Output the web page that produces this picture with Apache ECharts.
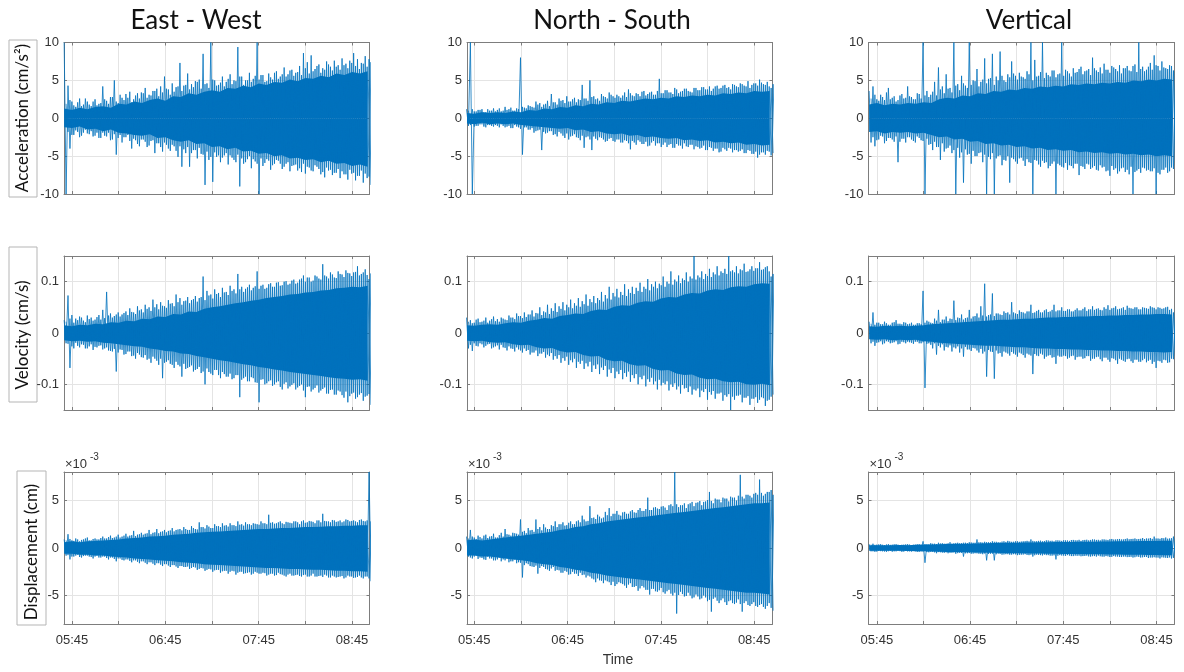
<!DOCTYPE html>
<html>
<head>
<meta charset="utf-8">
<title>Ground motion records</title>
<script src="https://cdn.jsdelivr.net/npm/echarts@6.0.0/dist/echarts.min.js"></script>
<style>
  html, body { margin: 0; padding: 0; background: #fff; }
  #chart { width: 1184px; height: 672px; }
</style>
</head>
<body>
<div id="chart"></div>
<script>
// time in minutes after 05:45; peaks every 2.48 min from 05:40, dense band every 5 min
const sampleStart = -5;
const sampleStep = 2.48;
const bandTimes = [-5, 0, 5, 10, 15, 20, 25, 30, 35, 40, 45, 50, 55, 60, 65, 70, 75, 80, 85, 90,
  95, 100, 105, 110, 115, 120, 125, 130, 135, 140, 145, 150, 155, 160, 165, 170, 175, 180, 185, 190];

const xTicks = [0, 30, 60, 90, 120, 150, 180];
const xLabels = [0, 60, 120, 180];

const columnTitles = ['East - West', 'North - South', 'Vertical'];
const rowTitles = ['Acceleration (cm/s²)', 'Velocity (cm/s)', 'Displacement (cm)'];

// ---- acceleration (cm/s^2) ----
const ewAccHi = [10, 4.3, 2.2, 1.5, 2.6, 1.8, 2.2, 1.6, 2.5, 1.9,
  4.2, 2.3, 2.8, 5.0, 2.0, 2.7, 3.2, 3.5, 2.5, 3.3,
  3.4, 4.0, 3.1, 3.6, 3.9, 4.2, 5.5, 3.8, 4.6, 4.1,
  7.3, 4.3, 5.9, 4.5, 4.9, 5.1, 8.5, 4.6, 10, 5.0,
  4.4, 5.5, 4.8, 5.8, 5.0, 9.4, 5.5, 5.0, 6.0, 5.2,
  10, 5.7, 4.8, 5.9, 5.1, 6.2, 5.5, 6.7, 5.8, 6.4,
  6.0, 6.9, 8.6, 7.4, 8.3, 6.5, 7.1, 6.6, 7.5, 6.8,
  7.6, 7.0, 7.9, 7.2, 7.6, 8.6, 7.8, 7.3, 8.2, 7.8];
const ewAccLo = [-10, -4.0, -2.2, -1.8, -2.3, -1.5, -2.1, -2.4, -1.9, -2.6,
  -2.3, -1.9, -2.8, -4.8, -2.2, -2.5, -2.2, -4.0, -2.9, -3.7,
  -2.8, -3.8, -3.0, -4.6, -3.3, -4.4, -3.5, -4.3, -3.7, -5.1,
  -6.4, -4.6, -6.4, -4.2, -5.3, -4.7, -8.8, -5.5, -8.4, -5.1,
  -5.8, -4.9, -6.1, -5.2, -5.8, -9.0, -6.0, -5.4, -6.6, -5.7,
  -10, -6.3, -5.4, -6.8, -6.0, -5.6, -6.7, -6.0, -7.0, -6.2,
  -6.9, -7.1, -7.3, -6.5, -7.0, -6.4, -7.4, -7.8, -6.9, -7.5,
  -7.2, -7.9, -7.4, -8.1, -7.3, -8.2, -7.6, -8.5, -7.9, -8.8];
const ewAccHi2 = [1.9, 2.4, 1.7, 2.1, 1.6, 2.6, 1.8, 2.2, 1.7, 2.0,
  2.5, 1.9, 2.8, 2.2, 3.1, 2.4, 2.7, 2.1, 3.0, 2.6,
  3.3, 2.7, 3.0, 3.6, 2.9, 3.4, 3.9, 3.1, 3.5, 4.2,
  3.6, 4.4, 3.8, 4.1, 4.8, 3.9, 4.5, 4.0, 5.1, 4.3,
  4.7, 4.2, 5.2, 4.5, 4.9, 5.5, 4.4, 5.0, 4.8, 5.6,
  5.1, 5.7, 4.9, 5.4, 6.0, 5.2, 5.8, 5.5, 6.3, 5.6,
  6.1, 5.7, 6.6, 5.9, 6.2, 6.9, 6.0, 6.4, 7.1, 6.3,
  6.8, 6.4, 7.0, 6.6, 7.3, 6.9, 6.5, 7.2, 6.8, 7.4];
const ewAccLo2 = [-1.8, -2.2, -1.6, -2.5, -1.9, -2.0, -1.7, -2.3, -2.6, -1.9,
  -2.4, -2.9, -2.1, -2.6, -3.2, -2.5, -3.0, -2.7, -3.4, -2.8,
  -3.1, -3.6, -2.9, -3.3, -3.8, -3.2, -4.0, -3.5, -4.3, -3.7,
  -4.1, -3.8, -4.6, -4.2, -3.9, -4.8, -4.4, -5.1, -4.5, -4.9,
  -5.2, -4.6, -4.9, -5.5, -4.8, -5.3, -5.8, -5.0, -5.4, -6.0,
  -5.3, -5.9, -5.6, -6.2, -5.5, -6.0, -6.4, -5.8, -6.3, -6.1,
  -6.6, -6.0, -6.4, -6.9, -6.2, -6.7, -7.1, -6.5, -6.8, -7.2,
  -6.7, -7.0, -7.4, -6.8, -7.2, -7.6, -6.9, -7.3, -7.7, -7.1];
const ewAccBandHi = [1.3, 1.1, 1.4, 1.2, 1.5, 1.6, 1.4, 1.9, 1.8, 2.2,
  2.0, 2.4, 2.6, 2.3, 2.9, 2.8, 3.3, 3.1, 3.5, 3.7,
  3.5, 4.0, 3.9, 4.3, 4.1, 4.6, 4.4, 4.8, 4.7, 5.1,
  4.9, 5.3, 5.2, 5.6, 5.4, 5.9, 5.7, 6.1, 5.9, 6.2];
const ewAccBandLo = [-1.2, -1.3, -1.1, -1.5, -1.4, -1.7, -1.5, -1.9, -2.0, -2.2,
  -2.3, -2.1, -2.6, -2.5, -2.9, -3.1, -2.9, -3.4, -3.3, -3.8,
  -3.7, -4.1, -3.9, -4.4, -4.3, -4.7, -4.6, -5.0, -4.9, -5.3,
  -5.2, -5.5, -5.4, -5.8, -5.6, -6.0, -5.9, -6.3, -6.1, -6.4];

const nsAccHi = [1.2, 10, 0.9, 1.1, 1.2, 0.8, 1.0, 1.3, 1.1, 0.9,
  1.5, 1.2, 1.0, 1.3, 8.0, 1.4, 1.7, 1.5, 2.2, 2.0,
  1.8, 2.3, 3.2, 2.1, 2.6, 2.4, 2.9, 2.2, 2.7, 2.5,
  4.4, 2.6, 5.0, 2.9, 2.6, 3.2, 2.8, 3.4, 2.9, 3.1,
  2.7, 3.4, 3.8, 3.0, 3.3, 2.9, 3.6, 3.2, 3.5, 3.1,
  5.2, 3.3, 3.7, 3.4, 4.0, 3.3, 3.6, 3.9, 3.5, 4.0,
  3.7, 4.1, 3.8, 4.2, 3.9, 4.3, 4.0, 4.4, 4.1, 4.5,
  4.2, 4.6, 4.3, 4.9, 4.4, 4.6, 5.1, 4.5, 4.8, 4.0];
const nsAccLo = [-1.0, -10, -1.0, -0.8, -1.1, -0.9, -1.0, -0.9, -1.2, -1.0,
  -1.1, -1.3, -0.9, -1.2, -4.8, -1.2, -1.5, -1.9, -1.6, -4.2,
  -2.0, -1.7, -2.2, -2.4, -2.0, -2.6, -2.8, -2.3, -2.5, -2.9,
  -3.9, -2.4, -4.2, -2.7, -2.5, -2.8, -3.0, -2.6, -3.1, -2.8,
  -3.2, -3.0, -4.1, -3.2, -2.9, -3.4, -3.1, -3.6, -3.0, -3.3,
  -3.8, -3.2, -3.5, -3.9, -3.4, -3.6, -3.3, -3.8, -3.5, -3.7,
  -4.0, -3.6, -4.2, -3.9, -4.0, -4.5, -3.9, -4.3, -4.0, -4.2,
  -4.4, -4.1, -4.6, -4.3, -4.7, -5.2, -4.5, -4.8, -4.4, -4.6];
const nsAccHi2 = [1.0, 1.2, 0.9, 1.1, 0.8, 1.2, 1.0, 0.9, 1.3, 1.0,
  1.1, 1.4, 1.0, 1.2, 1.5, 1.3, 1.6, 1.4, 1.8, 1.5,
  1.9, 1.6, 2.1, 1.8, 2.3, 2.0, 2.2, 2.5, 2.1, 2.4,
  2.6, 2.3, 2.8, 2.5, 2.3, 2.9, 2.6, 3.1, 2.7, 2.9,
  3.0, 2.8, 3.3, 2.9, 3.2, 3.5, 3.0, 3.4, 3.1, 3.6,
  3.3, 3.7, 3.4, 3.2, 3.8, 3.5, 3.9, 3.6, 3.4, 4.0,
  3.7, 4.1, 3.8, 3.6, 4.2, 3.9, 4.3, 4.0, 3.8, 4.4,
  4.1, 4.5, 4.2, 4.0, 4.6, 4.3, 4.7, 4.4, 4.2, 4.5];
const nsAccLo2 = [-0.9, -1.1, -1.0, -0.8, -1.2, -0.9, -1.1, -1.0, -0.8, -1.2,
  -1.0, -1.3, -1.1, -1.4, -1.2, -1.5, -1.3, -1.7, -1.5, -1.8,
  -1.9, -1.7, -2.1, -1.8, -2.3, -2.0, -2.4, -2.1, -2.6, -2.3,
  -2.5, -2.8, -2.4, -2.9, -2.6, -3.1, -2.7, -3.0, -2.8, -3.2,
  -2.9, -3.3, -3.0, -3.5, -3.1, -3.4, -3.7, -3.2, -3.6, -3.3,
  -3.5, -3.8, -3.4, -3.9, -3.6, -4.0, -3.7, -3.5, -4.1, -3.8,
  -3.9, -4.2, -3.8, -4.3, -4.0, -4.4, -4.1, -3.9, -4.5, -4.2,
  -4.3, -4.6, -4.2, -4.7, -4.4, -4.8, -4.5, -4.3, -4.9, -4.5];
const nsAccBandHi = [0.7, 0.6, 0.8, 0.7, 0.8, 0.7, 0.9, 0.8, 1.1, 1.0,
  1.3, 1.2, 1.5, 1.4, 1.7, 1.6, 1.9, 1.8, 2.1, 2.0,
  2.3, 2.2, 2.4, 2.6, 2.5, 2.7, 2.6, 2.9, 2.8, 3.0,
  2.9, 3.1, 3.0, 3.3, 3.2, 3.4, 3.3, 3.6, 3.5, 3.6];
const nsAccBandLo = [-0.7, -0.8, -0.6, -0.8, -0.7, -0.8, -0.7, -0.9, -1.0, -1.1,
  -1.2, -1.3, -1.4, -1.3, -1.6, -1.5, -1.8, -1.7, -2.0, -2.1,
  -2.0, -2.3, -2.2, -2.5, -2.4, -2.6, -2.7, -2.6, -2.9, -2.8,
  -3.0, -2.9, -3.2, -3.1, -3.3, -3.2, -3.5, -3.4, -3.6, -3.5];

const vAccHi = [3.6, 4.2, 2.5, 3.1, 2.4, 4.0, 2.7, 2.2, 3.0, 2.6,
  4.2, 2.8, 2.5, 3.2, 10, 3.6, 3.1, 4.8, 6.7, 4.2,
  5.8, 4.0, 10, 4.5, 5.6, 4.3, 10, 5.0, 6.5, 4.8,
  7.9, 5.2, 8.5, 5.5, 8.8, 5.0, 5.8, 7.5, 5.6, 6.0,
  5.4, 6.2, 10, 7.7, 5.6, 10, 6.0, 5.5, 6.3, 5.8,
  10, 6.4, 5.9, 6.6, 6.1, 6.8, 6.2, 6.5, 8.0, 6.3,
  6.7, 7.2, 6.4, 6.9, 6.5, 7.0, 6.6, 6.9, 6.2, 7.1,
  10, 6.8, 6.4, 7.3, 8.3, 6.9, 7.5, 6.6, 7.0, 6.3];
const vAccLo = [-3.2, -3.7, -2.8, -2.4, -3.0, -2.6, -3.1, -5.8, -2.7, -3.2,
  -2.5, -3.0, -2.4, -2.9, -10, -3.5, -4.2, -3.8, -5.5, -4.4,
  -3.9, -4.6, -10, -5.2, -8.5, -4.8, -6.0, -5.0, -4.6, -5.8,
  -10, -5.4, -10, -5.0, -6.2, -5.6, -8.5, -5.4, -6.0, -5.2,
  -6.3, -5.8, -10, -5.6, -6.4, -5.9, -6.6, -6.0, -10, -6.2,
  -6.5, -6.8, -6.3, -6.0, -7.5, -6.4, -6.0, -6.7, -6.3, -6.9,
  -6.5, -7.0, -7.6, -6.8, -7.3, -6.6, -7.1, -7.4, -10, -6.9,
  -7.2, -6.6, -6.8, -7.0, -10, -7.4, -6.8, -7.2, -6.5, -6.2];
const vAccHi2 = [2.6, 3.1, 2.3, 2.8, 3.4, 2.5, 2.9, 2.4, 3.2, 2.7,
  2.9, 2.5, 3.3, 2.6, 3.0, 2.8, 3.5, 3.0, 3.8, 3.3,
  3.9, 3.4, 4.3, 3.7, 4.6, 4.0, 4.4, 4.9, 4.2, 5.1,
  4.6, 5.3, 4.4, 5.0, 5.6, 4.8, 5.4, 5.9, 5.1, 5.5,
  5.2, 5.8, 5.0, 5.5, 6.1, 5.3, 5.7, 6.3, 5.4, 5.9,
  5.6, 6.2, 5.5, 6.0, 6.5, 5.8, 6.3, 5.7, 6.6, 6.1,
  5.9, 6.4, 6.0, 6.7, 6.2, 5.9, 6.6, 6.3, 6.9, 6.1,
  6.5, 6.2, 6.8, 6.4, 7.0, 6.3, 6.7, 6.5, 6.9, 6.2];
const vAccLo2 = [-2.5, -2.9, -2.3, -3.3, -2.6, -2.8, -2.4, -3.1, -2.7, -2.5,
  -2.8, -3.2, -2.6, -3.0, -2.7, -3.4, -3.1, -3.8, -3.3, -4.0,
  -3.6, -4.2, -3.9, -4.5, -4.1, -4.7, -4.3, -5.0, -4.5, -4.8,
  -5.1, -4.6, -5.3, -4.9, -5.5, -5.0, -5.2, -5.7, -5.3, -5.6,
  -5.4, -5.9, -5.5, -6.1, -5.6, -5.8, -6.3, -5.7, -6.0, -6.4,
  -5.9, -6.2, -6.6, -6.0, -6.3, -6.7, -6.1, -6.5, -6.8, -6.2,
  -6.4, -6.9, -6.3, -6.6, -7.0, -6.5, -6.8, -6.4, -7.1, -6.7,
  -6.5, -6.9, -7.0, -6.6, -7.2, -6.8, -6.5, -7.0, -6.7, -6.3];
const vAccBandHi = [1.8, 2.0, 1.7, 1.9, 1.8, 2.0, 1.9, 2.1, 2.0, 2.5,
  2.7, 2.6, 3.0, 2.9, 3.3, 3.2, 3.6, 3.5, 3.8, 3.7,
  4.0, 3.9, 4.2, 4.1, 4.3, 4.2, 4.5, 4.4, 4.6, 4.5,
  4.7, 4.6, 4.8, 4.7, 5.0, 4.9, 5.1, 5.0, 5.2, 5.1];
const vAccBandLo = [-1.8, -1.7, -2.0, -1.8, -1.9, -1.8, -2.0, -1.9, -2.2, -2.5,
  -2.4, -2.8, -2.7, -3.1, -3.0, -3.4, -3.3, -3.6, -3.5, -3.8,
  -3.7, -4.0, -3.9, -4.2, -4.1, -4.3, -4.2, -4.5, -4.4, -4.6,
  -4.5, -4.7, -4.6, -4.8, -4.7, -4.9, -4.8, -5.0, -4.9, -5.0];

// ---- velocity (cm/s) ----
const ewVelHi = [0.025, 0.073, 0.035, 0.028, 0.032, 0.024, 0.034, 0.03, 0.026, 0.035,
  0.045, 0.08, 0.038, 0.033, 0.04, 0.036, 0.042, 0.048, 0.04, 0.052,
  0.046, 0.055, 0.05, 0.065, 0.056, 0.06, 0.052, 0.064, 0.058, 0.075,
  0.068, 0.062, 0.07, 0.064, 0.072, 0.068, 0.11, 0.082, 0.075, 0.085,
  0.078, 0.088, 0.08, 0.092, 0.085, 0.115, 0.09, 0.086, 0.094, 0.088,
  0.12, 0.092, 0.086, 0.095, 0.09, 0.098, 0.092, 0.1, 0.094, 0.102,
  0.096, 0.104, 0.112, 0.108, 0.1, 0.112, 0.106, 0.134, 0.11, 0.118,
  0.108, 0.12, 0.114, 0.122, 0.116, 0.118, 0.13, 0.115, 0.124, 0.105];
const ewVelLo = [-0.02, -0.068, -0.03, -0.025, -0.022, -0.03, -0.026, -0.033, -0.028, -0.024,
  -0.03, -0.034, -0.036, -0.075, -0.032, -0.042, -0.036, -0.045, -0.05, -0.042,
  -0.048, -0.052, -0.058, -0.05, -0.062, -0.088, -0.056, -0.06, -0.068, -0.062,
  -0.085, -0.07, -0.066, -0.075, -0.07, -0.078, -0.1, -0.076, -0.082, -0.072,
  -0.088, -0.08, -0.085, -0.09, -0.082, -0.125, -0.088, -0.094, -0.086, -0.096,
  -0.135, -0.09, -0.098, -0.092, -0.1, -0.094, -0.11, -0.096, -0.104, -0.098,
  -0.106, -0.1, -0.125, -0.104, -0.11, -0.102, -0.112, -0.106, -0.118, -0.11,
  -0.12, -0.114, -0.126, -0.135, -0.118, -0.128, -0.12, -0.132, -0.122, -0.14];
const ewVelHi2 = [0.022, 0.028, 0.02, 0.025, 0.03, 0.021, 0.027, 0.024, 0.031, 0.026,
  0.029, 0.034, 0.03, 0.036, 0.032, 0.039, 0.035, 0.041, 0.037, 0.044,
  0.04, 0.047, 0.043, 0.05, 0.046, 0.053, 0.049, 0.057, 0.052, 0.06,
  0.055, 0.063, 0.058, 0.066, 0.061, 0.07, 0.064, 0.073, 0.067, 0.076,
  0.07, 0.079, 0.074, 0.082, 0.077, 0.085, 0.08, 0.089, 0.083, 0.091,
  0.086, 0.094, 0.088, 0.097, 0.09, 0.099, 0.093, 0.101, 0.096, 0.104,
  0.098, 0.106, 0.1, 0.108, 0.102, 0.11, 0.104, 0.112, 0.106, 0.114,
  0.107, 0.115, 0.109, 0.117, 0.111, 0.119, 0.112, 0.118, 0.113, 0.116];
const ewVelLo2 = [-0.021, -0.026, -0.019, -0.028, -0.023, -0.03, -0.022, -0.027, -0.025, -0.032,
  -0.028, -0.035, -0.031, -0.038, -0.033, -0.041, -0.036, -0.044, -0.039, -0.047,
  -0.043, -0.05, -0.046, -0.054, -0.05, -0.058, -0.053, -0.062, -0.056, -0.065,
  -0.06, -0.068, -0.063, -0.072, -0.066, -0.075, -0.069, -0.079, -0.072, -0.082,
  -0.076, -0.085, -0.079, -0.088, -0.082, -0.091, -0.085, -0.094, -0.088, -0.097,
  -0.091, -0.1, -0.094, -0.103, -0.096, -0.105, -0.099, -0.108, -0.101, -0.11,
  -0.103, -0.112, -0.105, -0.114, -0.107, -0.116, -0.109, -0.118, -0.111, -0.12,
  -0.112, -0.121, -0.114, -0.123, -0.116, -0.125, -0.117, -0.124, -0.119, -0.126];
const ewVelBandHi = [0.015, 0.013, 0.016, 0.015, 0.018, 0.017, 0.021, 0.02, 0.024, 0.023,
  0.028, 0.027, 0.032, 0.031, 0.037, 0.036, 0.042, 0.041, 0.047, 0.05,
  0.052, 0.055, 0.058, 0.06, 0.063, 0.065, 0.068, 0.07, 0.072, 0.075,
  0.076, 0.079, 0.08, 0.083, 0.084, 0.087, 0.088, 0.09, 0.089, 0.092];
const ewVelBandLo = [-0.014, -0.016, -0.015, -0.017, -0.016, -0.019, -0.02, -0.022, -0.024, -0.026,
  -0.027, -0.03, -0.032, -0.035, -0.036, -0.04, -0.041, -0.045, -0.047, -0.05,
  -0.053, -0.055, -0.058, -0.061, -0.063, -0.066, -0.068, -0.071, -0.073, -0.076,
  -0.078, -0.08, -0.082, -0.084, -0.086, -0.088, -0.089, -0.091, -0.09, -0.093];

const nsVelHi = [0.03, 0.025, 0.02, 0.028, 0.022, 0.03, 0.024, 0.032, 0.027, 0.03,
  0.026, 0.034, 0.03, 0.038, 0.033, 0.04, 0.036, 0.044, 0.039, 0.05,
  0.042, 0.055, 0.048, 0.058, 0.052, 0.06, 0.055, 0.065, 0.058, 0.068,
  0.062, 0.075, 0.066, 0.072, 0.068, 0.08, 0.074, 0.09, 0.078, 0.086,
  0.08, 0.095, 0.085, 0.09, 0.088, 0.098, 0.09, 0.105, 0.095, 0.1,
  0.096, 0.11, 0.1, 0.12, 0.104, 0.112, 0.106, 0.118, 0.11, 0.15,
  0.112, 0.12, 0.115, 0.125, 0.118, 0.13, 0.12, 0.125, 0.15, 0.122,
  0.13, 0.124, 0.135, 0.12, 0.13, 0.126, 0.138, 0.124, 0.13, 0.11];
const nsVelLo = [-0.03, -0.035, -0.025, -0.02, -0.028, -0.022, -0.03, -0.026, -0.032, -0.028,
  -0.034, -0.03, -0.036, -0.032, -0.038, -0.035, -0.042, -0.038, -0.045, -0.04,
  -0.048, -0.045, -0.052, -0.05, -0.058, -0.054, -0.062, -0.057, -0.068, -0.06,
  -0.07, -0.065, -0.076, -0.07, -0.08, -0.072, -0.085, -0.078, -0.088, -0.08,
  -0.09, -0.085, -0.095, -0.088, -0.1, -0.09, -0.104, -0.095, -0.1, -0.11,
  -0.102, -0.1, -0.112, -0.105, -0.11, -0.118, -0.108, -0.115, -0.12, -0.112,
  -0.125, -0.115, -0.13, -0.12, -0.128, -0.118, -0.132, -0.124, -0.15, -0.13,
  -0.122, -0.135, -0.126, -0.14, -0.128, -0.136, -0.125, -0.142, -0.13, -0.12];
const nsVelHi2 = [0.022, 0.019, 0.026, 0.021, 0.024, 0.02, 0.027, 0.023, 0.022, 0.028,
  0.025, 0.03, 0.027, 0.033, 0.029, 0.031, 0.036, 0.032, 0.038, 0.035,
  0.04, 0.037, 0.043, 0.041, 0.047, 0.044, 0.05, 0.048, 0.053, 0.051,
  0.056, 0.053, 0.06, 0.058, 0.064, 0.061, 0.067, 0.065, 0.071, 0.069,
  0.074, 0.072, 0.078, 0.076, 0.082, 0.08, 0.086, 0.083, 0.09, 0.087,
  0.093, 0.09, 0.096, 0.094, 0.1, 0.097, 0.103, 0.1, 0.106, 0.104,
  0.108, 0.105, 0.111, 0.109, 0.114, 0.112, 0.117, 0.115, 0.12, 0.118,
  0.116, 0.122, 0.119, 0.124, 0.121, 0.126, 0.123, 0.128, 0.12, 0.115];
const nsVelLo2 = [-0.023, -0.02, -0.026, -0.022, -0.025, -0.021, -0.028, -0.024, -0.023, -0.029,
  -0.026, -0.031, -0.028, -0.034, -0.03, -0.033, -0.038, -0.034, -0.04, -0.037,
  -0.042, -0.039, -0.045, -0.043, -0.049, -0.046, -0.053, -0.05, -0.056, -0.054,
  -0.059, -0.056, -0.063, -0.061, -0.067, -0.064, -0.071, -0.068, -0.075, -0.072,
  -0.078, -0.075, -0.082, -0.08, -0.086, -0.083, -0.09, -0.087, -0.094, -0.091,
  -0.097, -0.094, -0.1, -0.098, -0.104, -0.101, -0.107, -0.104, -0.11, -0.108,
  -0.112, -0.109, -0.115, -0.113, -0.118, -0.116, -0.121, -0.119, -0.124, -0.122,
  -0.12, -0.126, -0.123, -0.128, -0.125, -0.13, -0.127, -0.132, -0.124, -0.118];
const nsVelBandHi = [0.015, 0.014, 0.016, 0.017, 0.016, 0.019, 0.021, 0.02, 0.024, 0.026,
  0.029, 0.028, 0.033, 0.035, 0.038, 0.037, 0.043, 0.046, 0.045, 0.051,
  0.054, 0.053, 0.059, 0.062, 0.061, 0.067, 0.07, 0.069, 0.075, 0.078,
  0.077, 0.083, 0.085, 0.084, 0.089, 0.091, 0.09, 0.095, 0.097, 0.096];
const nsVelBandLo = [-0.015, -0.016, -0.015, -0.018, -0.019, -0.018, -0.022, -0.024, -0.023, -0.028,
  -0.03, -0.029, -0.035, -0.038, -0.037, -0.043, -0.046, -0.045, -0.052, -0.055,
  -0.054, -0.061, -0.064, -0.063, -0.07, -0.073, -0.072, -0.079, -0.082, -0.081,
  -0.087, -0.09, -0.089, -0.094, -0.096, -0.095, -0.1, -0.101, -0.099, -0.102];

const vVelHi = [0.022, 0.04, 0.02, 0.017, 0.022, 0.016, 0.02, 0.025, 0.018, 0.021,
  0.017, 0.02, 0.016, 0.019, 0.082, 0.024, 0.02, 0.028, 0.045, 0.026,
  0.032, 0.028, 0.063, 0.03, 0.036, 0.029, 0.045, 0.032, 0.038, 0.052,
  0.096, 0.035, 0.077, 0.038, 0.036, 0.042, 0.04, 0.06, 0.038, 0.044,
  0.04, 0.042, 0.055, 0.04, 0.045, 0.04, 0.046, 0.042, 0.055, 0.044,
  0.05, 0.043, 0.046, 0.042, 0.048, 0.044, 0.05, 0.046, 0.052, 0.047,
  0.045, 0.05, 0.054, 0.048, 0.052, 0.047, 0.05, 0.053, 0.048, 0.05,
  0.046, 0.05, 0.048, 0.052, 0.049, 0.05, 0.047, 0.05, 0.045, 0.04];
const vVelLo = [-0.02, -0.025, -0.018, -0.022, -0.016, -0.02, -0.018, -0.022, -0.017, -0.02,
  -0.018, -0.021, -0.017, -0.02, -0.107, -0.02, -0.03, -0.042, -0.028, -0.034,
  -0.028, -0.036, -0.03, -0.038, -0.046, -0.032, -0.035, -0.03, -0.038, -0.04,
  -0.085, -0.036, -0.089, -0.04, -0.046, -0.038, -0.044, -0.04, -0.046, -0.04,
  -0.048, -0.042, -0.08, -0.044, -0.04, -0.05, -0.044, -0.048, -0.06, -0.046,
  -0.044, -0.05, -0.045, -0.052, -0.046, -0.05, -0.045, -0.054, -0.05, -0.046,
  -0.055, -0.048, -0.056, -0.05, -0.06, -0.052, -0.056, -0.05, -0.058, -0.052,
  -0.056, -0.05, -0.054, -0.06, -0.068, -0.055, -0.052, -0.058, -0.05, -0.045];
const vVelHi2 = [0.018, 0.016, 0.02, 0.017, 0.019, 0.016, 0.021, 0.018, 0.017, 0.02,
  0.018, 0.016, 0.019, 0.017, 0.02, 0.022, 0.019, 0.024, 0.021, 0.026,
  0.023, 0.027, 0.025, 0.029, 0.026, 0.03, 0.028, 0.033, 0.03, 0.034,
  0.032, 0.036, 0.033, 0.038, 0.035, 0.039, 0.036, 0.04, 0.037, 0.041,
  0.038, 0.042, 0.039, 0.043, 0.04, 0.044, 0.041, 0.045, 0.042, 0.044,
  0.043, 0.046, 0.042, 0.045, 0.044, 0.047, 0.043, 0.046, 0.045, 0.048,
  0.044, 0.047, 0.045, 0.049, 0.046, 0.048, 0.045, 0.049, 0.047, 0.05,
  0.046, 0.049, 0.047, 0.05, 0.046, 0.049, 0.048, 0.051, 0.047, 0.044];
const vVelLo2 = [-0.017, -0.019, -0.016, -0.02, -0.017, -0.019, -0.016, -0.021, -0.018, -0.017,
  -0.019, -0.017, -0.02, -0.018, -0.021, -0.023, -0.02, -0.025, -0.022, -0.027,
  -0.024, -0.028, -0.026, -0.03, -0.027, -0.032, -0.029, -0.034, -0.031, -0.036,
  -0.033, -0.037, -0.034, -0.039, -0.036, -0.04, -0.037, -0.042, -0.038, -0.043,
  -0.04, -0.044, -0.041, -0.045, -0.042, -0.046, -0.043, -0.047, -0.044, -0.046,
  -0.045, -0.048, -0.044, -0.047, -0.046, -0.049, -0.045, -0.05, -0.047, -0.051,
  -0.048, -0.052, -0.049, -0.053, -0.05, -0.054, -0.051, -0.055, -0.052, -0.056,
  -0.053, -0.057, -0.052, -0.056, -0.054, -0.058, -0.053, -0.057, -0.051, -0.046];
const vVelBandHi = [0.013, 0.012, 0.014, 0.013, 0.014, 0.013, 0.014, 0.015, 0.017, 0.018,
  0.019, 0.02, 0.021, 0.022, 0.023, 0.024, 0.025, 0.026, 0.026, 0.027,
  0.028, 0.028, 0.029, 0.03, 0.03, 0.031, 0.031, 0.032, 0.032, 0.033,
  0.033, 0.034, 0.034, 0.035, 0.035, 0.036, 0.036, 0.037, 0.037, 0.036];
const vVelBandLo = [-0.012, -0.013, -0.012, -0.014, -0.013, -0.014, -0.013, -0.016, -0.017, -0.019,
  -0.02, -0.021, -0.022, -0.023, -0.024, -0.025, -0.025, -0.026, -0.027, -0.028,
  -0.028, -0.029, -0.03, -0.03, -0.031, -0.031, -0.032, -0.032, -0.033, -0.033,
  -0.034, -0.034, -0.035, -0.035, -0.036, -0.036, -0.037, -0.037, -0.038, -0.037];

// ---- displacement (x10^-3 cm) ----
const ewDispHi = [0.9, 1.45, 0.8, 1.0, 0.7, 0.9, 1.1, 0.8, 1.0, 0.9,
  1.2, 1.0, 1.3, 1.1, 1.4, 1.2, 1.5, 1.3, 1.8, 1.4,
  1.6, 1.5, 1.9, 1.6, 2.0, 1.7, 1.9, 1.8, 2.1, 1.9,
  2.0, 2.2, 1.9, 2.3, 2.0, 2.7, 2.2, 2.4, 2.1, 2.5,
  2.3, 2.6, 2.4, 2.6, 2.4, 2.8, 2.5, 2.7, 2.5, 2.6,
  2.5, 2.8, 2.6, 3.5, 2.7, 2.6, 2.8, 2.5, 2.7, 2.6,
  2.8, 2.5, 2.9, 2.7, 2.8, 2.6, 2.9, 3.6, 2.8, 2.7,
  2.9, 2.8, 2.7, 3.0, 2.8, 2.9, 2.7, 3.0, 2.8, 8.0];
const ewDispLo = [-0.8, -1.2, -0.9, -0.7, -1.0, -0.8, -0.9, -1.1, -0.8, -1.0,
  -0.9, -1.2, -1.0, -1.4, -1.1, -1.3, -1.2, -1.5, -1.3, -1.6,
  -1.4, -1.7, -1.5, -1.8, -1.6, -1.9, -1.7, -2.0, -1.8, -2.1,
  -1.9, -2.0, -2.2, -2.0, -2.3, -2.1, -2.4, -2.2, -2.5, -2.3,
  -2.6, -2.4, -2.7, -2.4, -2.8, -2.5, -2.7, -2.6, -2.8, -2.5,
  -2.7, -2.6, -2.9, -2.7, -2.9, -2.6, -2.8, -3.0, -2.7, -2.9,
  -2.8, -3.0, -2.8, -3.0, -2.7, -3.0, -2.9, -2.8, -3.1, -2.9,
  -3.1, -3.0, -3.2, -2.9, -3.0, -3.1, -2.9, -3.2, -3.0, -3.5];
const ewDispHi2 = [0.8, 0.95, 0.75, 0.9, 0.85, 1.0, 0.8, 0.95, 0.9, 1.05,
  1.0, 1.15, 1.05, 1.2, 1.1, 1.3, 1.2, 1.35, 1.25, 1.45,
  1.4, 1.55, 1.45, 1.65, 1.55, 1.75, 1.65, 1.85, 1.75, 1.95,
  1.85, 2.0, 1.9, 2.1, 1.95, 2.2, 2.05, 2.25, 2.1, 2.3,
  2.2, 2.35, 2.25, 2.4, 2.3, 2.45, 2.35, 2.5, 2.4, 2.55,
  2.45, 2.6, 2.5, 2.65, 2.55, 2.7, 2.6, 2.75, 2.65, 2.8,
  2.7, 2.8, 2.65, 2.85, 2.75, 2.9, 2.7, 2.85, 2.8, 2.95,
  2.75, 2.9, 2.8, 2.95, 2.85, 2.8, 2.95, 2.85, 2.9, 2.8];
const ewDispLo2 = [-0.75, -0.9, -0.8, -0.95, -0.85, -0.8, -0.95, -0.9, -1.0, -0.9,
  -1.05, -1.0, -1.15, -1.1, -1.25, -1.2, -1.35, -1.3, -1.45, -1.4,
  -1.55, -1.5, -1.65, -1.6, -1.75, -1.7, -1.85, -1.8, -1.95, -1.9,
  -2.0, -1.95, -2.1, -2.05, -2.2, -2.15, -2.3, -2.25, -2.35, -2.3,
  -2.45, -2.4, -2.5, -2.45, -2.6, -2.5, -2.65, -2.55, -2.7, -2.6,
  -2.7, -2.65, -2.8, -2.7, -2.85, -2.75, -2.9, -2.8, -2.9, -2.85,
  -2.95, -2.85, -3.0, -2.9, -3.0, -2.95, -3.05, -2.9, -3.1, -3.0,
  -3.05, -2.95, -3.1, -3.0, -3.15, -3.05, -3.1, -3.0, -3.2, -3.1];
const ewDispBandHi = [0.6, 0.7, 0.6, 0.7, 0.75, 0.8, 0.85, 0.9, 1.0, 1.05,
  1.1, 1.2, 1.25, 1.3, 1.4, 1.45, 1.5, 1.6, 1.65, 1.7,
  1.75, 1.8, 1.85, 1.9, 1.95, 2.0, 2.0, 2.05, 2.1, 2.1,
  2.15, 2.2, 2.2, 2.25, 2.3, 2.3, 2.35, 2.35, 2.4, 2.4];
const ewDispBandLo = [-0.6, -0.6, -0.7, -0.7, -0.8, -0.8, -0.9, -0.95, -1.0, -1.1,
  -1.15, -1.2, -1.3, -1.35, -1.4, -1.5, -1.55, -1.6, -1.7, -1.75,
  -1.8, -1.85, -1.9, -1.95, -2.0, -2.05, -2.1, -2.1, -2.15, -2.2,
  -2.2, -2.25, -2.3, -2.3, -2.35, -2.4, -2.4, -2.45, -2.45, -2.5];

const nsDispHi = [1.2, 1.9, 1.1, 1.3, 1.0, 1.4, 1.2, 1.5, 1.1, 1.6,
  2.0, 1.4, 1.6, 1.5, 3.0, 1.8, 2.1, 1.9, 3.0, 2.2,
  2.5, 2.0, 2.4, 2.8, 2.5, 2.7, 2.4, 2.8, 2.5, 2.9,
  3.4, 2.8, 4.4, 3.2, 3.5, 3.1, 3.8, 4.2, 3.6, 3.9,
  3.4, 3.8, 3.6, 4.0, 3.7, 4.2, 3.9, 5.3, 4.0, 4.3,
  4.1, 4.4, 4.0, 4.6, 8.0, 4.3, 4.5, 4.2, 4.7, 4.4,
  4.8, 4.5, 4.9, 5.9, 4.7, 5.1, 4.8, 5.2, 4.9, 5.3,
  5.0, 7.7, 5.2, 5.6, 5.3, 5.8, 7.2, 5.5, 5.9, 6.1];
const nsDispLo = [-0.9, -1.1, -0.8, -1.0, -1.2, -0.9, -1.1, -1.3, -1.0, -1.2,
  -1.1, -1.4, -1.2, -1.5, -3.1, -1.6, -1.9, -2.0, -2.7, -1.9,
  -2.2, -2.4, -2.0, -2.3, -2.6, -2.4, -2.8, -2.5, -2.7, -2.6,
  -2.8, -2.9, -3.2, -3.6, -3.4, -3.7, -3.5, -3.9, -4.0, -3.6,
  -3.8, -4.2, -3.7, -4.1, -4.5, -4.0, -4.4, -4.9, -4.3, -4.6,
  -4.2, -4.8, -4.4, -5.0, -6.9, -4.6, -5.1, -4.7, -5.3, -4.9,
  -5.4, -5.0, -5.6, -6.7, -5.2, -5.8, -5.3, -6.0, -5.5, -5.9,
  -5.4, -6.7, -5.6, -6.1, -5.7, -6.2, -5.9, -6.4, -5.8, -6.6];
const nsDispHi2 = [1.0, 1.2, 0.95, 1.15, 1.3, 1.05, 1.25, 1.1, 1.35, 1.2,
  1.45, 1.3, 1.55, 1.4, 1.7, 1.55, 1.85, 1.7, 2.0, 1.85,
  2.15, 2.0, 2.3, 2.2, 2.5, 2.35, 2.65, 2.5, 2.8, 2.7,
  3.0, 2.85, 3.15, 3.05, 3.3, 3.2, 3.45, 3.35, 3.6, 3.5,
  3.75, 3.6, 3.85, 3.75, 4.0, 3.9, 4.1, 4.0, 4.25, 4.15,
  4.35, 4.25, 4.5, 4.4, 4.6, 4.5, 4.7, 4.6, 4.85, 4.75,
  4.95, 4.85, 5.05, 4.95, 5.2, 5.1, 5.3, 5.2, 5.4, 5.3,
  5.5, 5.4, 5.6, 5.5, 5.7, 5.6, 5.8, 5.7, 5.9, 5.6];
const nsDispLo2 = [-1.0, -0.9, -1.15, -1.05, -1.25, -1.1, -1.3, -1.2, -1.4, -1.3,
  -1.5, -1.4, -1.6, -1.55, -1.8, -1.7, -1.95, -1.85, -2.1, -2.0,
  -2.25, -2.15, -2.4, -2.35, -2.6, -2.5, -2.75, -2.7, -2.95, -2.85,
  -3.1, -3.0, -3.3, -3.2, -3.45, -3.4, -3.6, -3.55, -3.8, -3.7,
  -3.95, -3.85, -4.1, -4.0, -4.25, -4.15, -4.4, -4.3, -4.55, -4.45,
  -4.65, -4.55, -4.8, -4.7, -4.95, -4.85, -5.05, -5.0, -5.2, -5.1,
  -5.3, -5.2, -5.45, -5.35, -5.55, -5.5, -5.7, -5.6, -5.8, -5.75,
  -5.9, -5.8, -6.0, -5.9, -6.1, -6.0, -6.2, -6.1, -6.3, -6.0];
const nsDispBandHi = [0.8, 0.9, 0.8, 0.9, 1.0, 1.1, 1.2, 1.3, 1.4, 1.5,
  1.6, 1.7, 1.9, 2.0, 2.2, 2.3, 2.5, 2.6, 2.8, 2.9,
  3.0, 3.1, 3.2, 3.3, 3.4, 3.5, 3.6, 3.7, 3.8, 3.9,
  4.0, 4.1, 4.2, 4.3, 4.4, 4.5, 4.6, 4.7, 4.7, 4.8];
const nsDispBandLo = [-0.8, -0.8, -0.9, -0.9, -1.0, -1.1, -1.2, -1.3, -1.4, -1.6,
  -1.7, -1.8, -2.0, -2.1, -2.3, -2.4, -2.6, -2.7, -2.9, -3.0,
  -3.1, -3.2, -3.3, -3.4, -3.5, -3.6, -3.7, -3.8, -3.9, -4.0,
  -4.1, -4.2, -4.3, -4.4, -4.5, -4.6, -4.7, -4.7, -4.8, -4.9];

const vDispHi = [0.4, 0.45, 0.35, 0.4, 0.3, 0.4, 0.35, 0.4, 0.3, 0.35,
  0.4, 0.3, 0.35, 0.4, 0.7, 0.4, 0.5, 0.45, 0.55, 0.5,
  0.45, 0.6, 0.5, 0.55, 0.5, 0.55, 0.6, 0.55, 0.9, 0.6,
  0.65, 0.6, 0.7, 0.65, 0.6, 0.7, 0.75, 0.65, 0.7, 0.65,
  0.7, 0.75, 0.9, 0.7, 0.75, 0.7, 0.8, 0.75, 0.7, 0.8,
  0.75, 0.8, 0.75, 0.85, 0.8, 0.75, 0.85, 0.8, 0.9, 0.85,
  0.8, 0.9, 0.85, 0.95, 0.9, 0.95, 0.9, 1.0, 0.95, 1.0,
  0.95, 1.05, 1.0, 1.05, 1.2, 1.0, 1.05, 1.1, 1.0, 1.2];
const vDispLo = [-0.35, -0.4, -0.3, -0.35, -0.4, -0.3, -0.35, -0.3, -0.4, -0.3,
  -0.35, -0.3, -0.4, -0.35, -1.55, -0.45, -0.4, -0.55, -0.45, -0.5,
  -0.55, -0.5, -0.6, -0.5, -0.9, -0.55, -0.6, -0.55, -0.6, -0.65,
  -1.3, -0.6, -1.3, -0.6, -0.7, -0.65, -0.7, -0.65, -0.75, -0.7,
  -0.65, -0.75, -0.9, -0.7, -0.75, -0.7, -0.75, -0.8, -1.2, -0.75,
  -0.8, -0.75, -0.85, -0.8, -0.8, -0.85, -0.8, -0.9, -0.85, -0.8,
  -0.9, -0.85, -0.95, -0.85, -0.9, -0.95, -0.9, -0.95, -1.0, -0.9,
  -1.0, -0.95, -1.05, -1.0, -1.0, -1.1, -1.0, -1.05, -1.1, -1.0];
const vDispHi2 = [0.36, 0.33, 0.38, 0.34, 0.37, 0.33, 0.39, 0.35, 0.34, 0.38,
  0.36, 0.34, 0.39, 0.36, 0.42, 0.39, 0.45, 0.42, 0.48, 0.45,
  0.5, 0.47, 0.53, 0.5, 0.55, 0.52, 0.58, 0.55, 0.6, 0.57,
  0.62, 0.6, 0.65, 0.62, 0.67, 0.64, 0.69, 0.66, 0.71, 0.68,
  0.72, 0.7, 0.75, 0.72, 0.77, 0.74, 0.79, 0.76, 0.8, 0.78,
  0.82, 0.79, 0.84, 0.81, 0.86, 0.83, 0.87, 0.85, 0.89, 0.86,
  0.9, 0.87, 0.92, 0.89, 0.93, 0.9, 0.95, 0.92, 0.96, 0.93,
  0.97, 0.94, 0.99, 0.96, 1.0, 0.97, 1.02, 0.98, 1.03, 0.99];
const vDispLo2 = [-0.35, -0.38, -0.33, -0.37, -0.34, -0.39, -0.35, -0.33, -0.38, -0.36,
  -0.37, -0.35, -0.4, -0.37, -0.43, -0.4, -0.46, -0.43, -0.49, -0.46,
  -0.51, -0.48, -0.54, -0.51, -0.56, -0.53, -0.59, -0.56, -0.61, -0.58,
  -0.63, -0.6, -0.66, -0.63, -0.68, -0.65, -0.7, -0.67, -0.72, -0.69,
  -0.73, -0.71, -0.76, -0.73, -0.78, -0.75, -0.8, -0.77, -0.81, -0.79,
  -0.83, -0.8, -0.85, -0.82, -0.87, -0.84, -0.88, -0.86, -0.9, -0.87,
  -0.91, -0.88, -0.93, -0.9, -0.94, -0.91, -0.96, -0.93, -0.97, -0.94,
  -0.98, -0.95, -1.0, -0.97, -1.01, -0.98, -1.03, -0.99, -1.04, -1.0];
const vDispBandHi = [0.3, 0.28, 0.3, 0.3, 0.32, 0.3, 0.33, 0.35, 0.37, 0.4,
  0.42, 0.43, 0.45, 0.46, 0.48, 0.5, 0.52, 0.53, 0.55, 0.56,
  0.57, 0.58, 0.6, 0.6, 0.62, 0.63, 0.64, 0.65, 0.66, 0.67,
  0.68, 0.69, 0.7, 0.71, 0.72, 0.73, 0.74, 0.75, 0.76, 0.76];
const vDispBandLo = [-0.3, -0.3, -0.28, -0.3, -0.3, -0.32, -0.33, -0.35, -0.37, -0.39,
  -0.41, -0.43, -0.44, -0.46, -0.47, -0.49, -0.51, -0.52, -0.54, -0.55,
  -0.56, -0.58, -0.59, -0.6, -0.61, -0.62, -0.63, -0.64, -0.65, -0.66,
  -0.67, -0.68, -0.69, -0.7, -0.71, -0.72, -0.73, -0.74, -0.75, -0.75];

const BLUE = '#0072BD';
const AXIS = '#7d7d7d';
const GRIDLINE = '#e4e4e4';
const TICKTEXT = '#333333';
const FONT = '"Liberation Sans", Arial, sans-serif';

const colLeft = [64, 467, 868.5];
const colWidth = [305.5, 305.5, 306];
const colXMin = [-5.1, -4.7, -5.4];
const colXMax = [191.2, 191.8, 191.6];
const rowTop = [42.5, 256, 472];
const rowHeight = [151.5, 154, 152];
const rowY = [
  { min: -10, max: 10, ticks: [-10, -5, 0, 5, 10] },
  { min: -0.15, max: 0.15, ticks: [-0.1, 0, 0.1] },
  { min: -8, max: 8, ticks: [-5, 0, 5] }
];

// [outer peaks up, outer peaks down, inner peaks up, inner peaks down, dense band top, dense band bottom]
const panels = [
  [ewAccHi, ewAccLo, ewAccHi2, ewAccLo2, ewAccBandHi, ewAccBandLo],
  [nsAccHi, nsAccLo, nsAccHi2, nsAccLo2, nsAccBandHi, nsAccBandLo],
  [vAccHi, vAccLo, vAccHi2, vAccLo2, vAccBandHi, vAccBandLo],
  [ewVelHi, ewVelLo, ewVelHi2, ewVelLo2, ewVelBandHi, ewVelBandLo],
  [nsVelHi, nsVelLo, nsVelHi2, nsVelLo2, nsVelBandHi, nsVelBandLo],
  [vVelHi, vVelLo, vVelHi2, vVelLo2, vVelBandHi, vVelBandLo],
  [ewDispHi, ewDispLo, ewDispHi2, ewDispLo2, ewDispBandHi, ewDispBandLo],
  [nsDispHi, nsDispLo, nsDispHi2, nsDispLo2, nsDispBandHi, nsDispBandLo],
  [vDispHi, vDispLo, vDispHi2, vDispLo2, vDispBandHi, vDispBandLo]
];

function pad(n) { return (n < 10 ? '0' : '') + n; }
function clock(v) {
  const m = Math.round(5 * 60 + 45 + v);
  return pad(Math.floor(m / 60)) + ':' + pad(m % 60);
}

// signal trace: up to the high peak, down to the low peak, for each sample
function trace(hi, lo, shift) {
  const out = [];
  for (let i = 0; i < hi.length; i++) {
    const t = sampleStart + i * sampleStep + shift;
    out.push([t, hi[i]]);
    out.push([t + sampleStep / 2, lo[i]]);
  }
  return out;
}
function band(vals) {
  return bandTimes.map((t, k) => [t, vals[k]]);
}

const grids = [], xAxes = [], yAxes = [], series = [];

panels.forEach((p, idx) => {
  const row = Math.floor(idx / 3), col = idx % 3;
  const ry = rowY[row];
  grids.push({
    left: colLeft[col], top: rowTop[row], width: colWidth[col], height: rowHeight[row],
    containLabel: false, outerBoundsMode: 'none', show: false
  });
  const tickStyle = { show: true, inside: true, length: 3, lineStyle: { color: AXIS, width: 1 } };
  [false, true].forEach(isTop => {
    xAxes.push({
      type: 'value', gridIndex: idx, position: isTop ? 'top' : 'bottom',
      min: colXMin[col], max: colXMax[col],
      axisLine: { show: true, onZero: false, lineStyle: { color: AXIS, width: 1 } },
      axisTick: Object.assign({ customValues: xTicks }, tickStyle),
      axisLabel: {
        show: !isTop && row === 2, customValues: xLabels, formatter: clock,
        color: TICKTEXT, fontSize: 13, fontFamily: FONT, margin: 10
      },
      splitLine: { show: !isTop, lineStyle: { color: GRIDLINE, width: 1 } }
    });
  });
  [false, true].forEach(isRight => {
    yAxes.push({
      type: 'value', gridIndex: idx, position: isRight ? 'right' : 'left',
      min: ry.min, max: ry.max,
      axisLine: { show: true, onZero: false, lineStyle: { color: AXIS, width: 1 } },
      axisTick: Object.assign({ customValues: ry.ticks }, tickStyle),
      axisLabel: {
        show: !isRight, customValues: ry.ticks,
        color: TICKTEXT, fontSize: 13, fontFamily: FONT, margin: 5
      },
      splitLine: { show: !isRight, lineStyle: { color: GRIDLINE, width: 1 } }
    });
  });
  const ax = { xAxisIndex: idx * 2, yAxisIndex: idx * 2 };
  [p[4], p[5]].forEach(edge => {
    series.push(Object.assign({
      type: 'line', data: band(edge), symbol: 'none', silent: true,
      lineStyle: { width: 0 }, areaStyle: { color: BLUE, opacity: 1, origin: 0 }, z: 2
    }, ax));
  });
  series.push(Object.assign({
    type: 'line', data: trace(p[2], p[3], sampleStep / 2), symbol: 'none', silent: true,
    lineStyle: { color: BLUE, width: 1, opacity: 0.75 }, z: 3
  }, ax));
  series.push(Object.assign({
    type: 'line', data: trace(p[0], p[1], 0), symbol: 'none', silent: true,
    lineStyle: { color: BLUE, width: 1, opacity: 0.8 }, z: 4
  }, ax));
});

const graphics = [];
const titleX = [196, 612, 1029];
columnTitles.forEach((txt, c) => {
  graphics.push({
    type: 'text', x: titleX[c], y: 21,
    style: { text: txt, font: '26px Lato, "Open Sans", sans-serif', fill: '#111', align: 'center', verticalAlign: 'middle' }
  });
});
const labelBoxes = [
  { x: 9, y: 40, w: 28, h: 157, cy: 118 },
  { x: 9, y: 247, w: 28, h: 155, cy: 335 },
  { x: 17, y: 471, w: 29, h: 154, cy: 552 }
];
rowTitles.forEach((txt, r) => {
  const b = labelBoxes[r];
  graphics.push({
    type: 'rect', shape: { x: b.x, y: b.y, width: b.w, height: b.h },
    style: { fill: '#fff', stroke: '#b5b5b5', lineWidth: 1 }
  });
  graphics.push({
    type: 'text', x: b.x + b.w / 2, y: b.cy, rotation: Math.PI / 2,
    style: { text: txt, font: '17px Lato, "Open Sans", sans-serif', fill: '#111', align: 'center', verticalAlign: 'middle' }
  });
});
colLeft.forEach(x => {
  graphics.push({ type: 'text', x: x + 1, y: 464,
    style: { text: '×10', font: '13px ' + FONT, fill: TICKTEXT, align: 'left', verticalAlign: 'middle' } });
  graphics.push({ type: 'text', x: x + 26, y: 457,
    style: { text: '-3', font: '10px ' + FONT, fill: TICKTEXT, align: 'left', verticalAlign: 'middle' } });
});
graphics.push({
  type: 'text', x: 618, y: 660,
  style: { text: 'Time', font: '14px ' + FONT, fill: TICKTEXT, align: 'center', verticalAlign: 'middle' }
});

const chart = echarts.init(document.getElementById('chart'), null, { renderer: 'canvas' });
chart.setOption({
  animation: false,
  backgroundColor: '#fff',
  grid: grids,
  xAxis: xAxes,
  yAxis: yAxes,
  series: series,
  graphic: graphics
});
</script>
</body>
</html>
